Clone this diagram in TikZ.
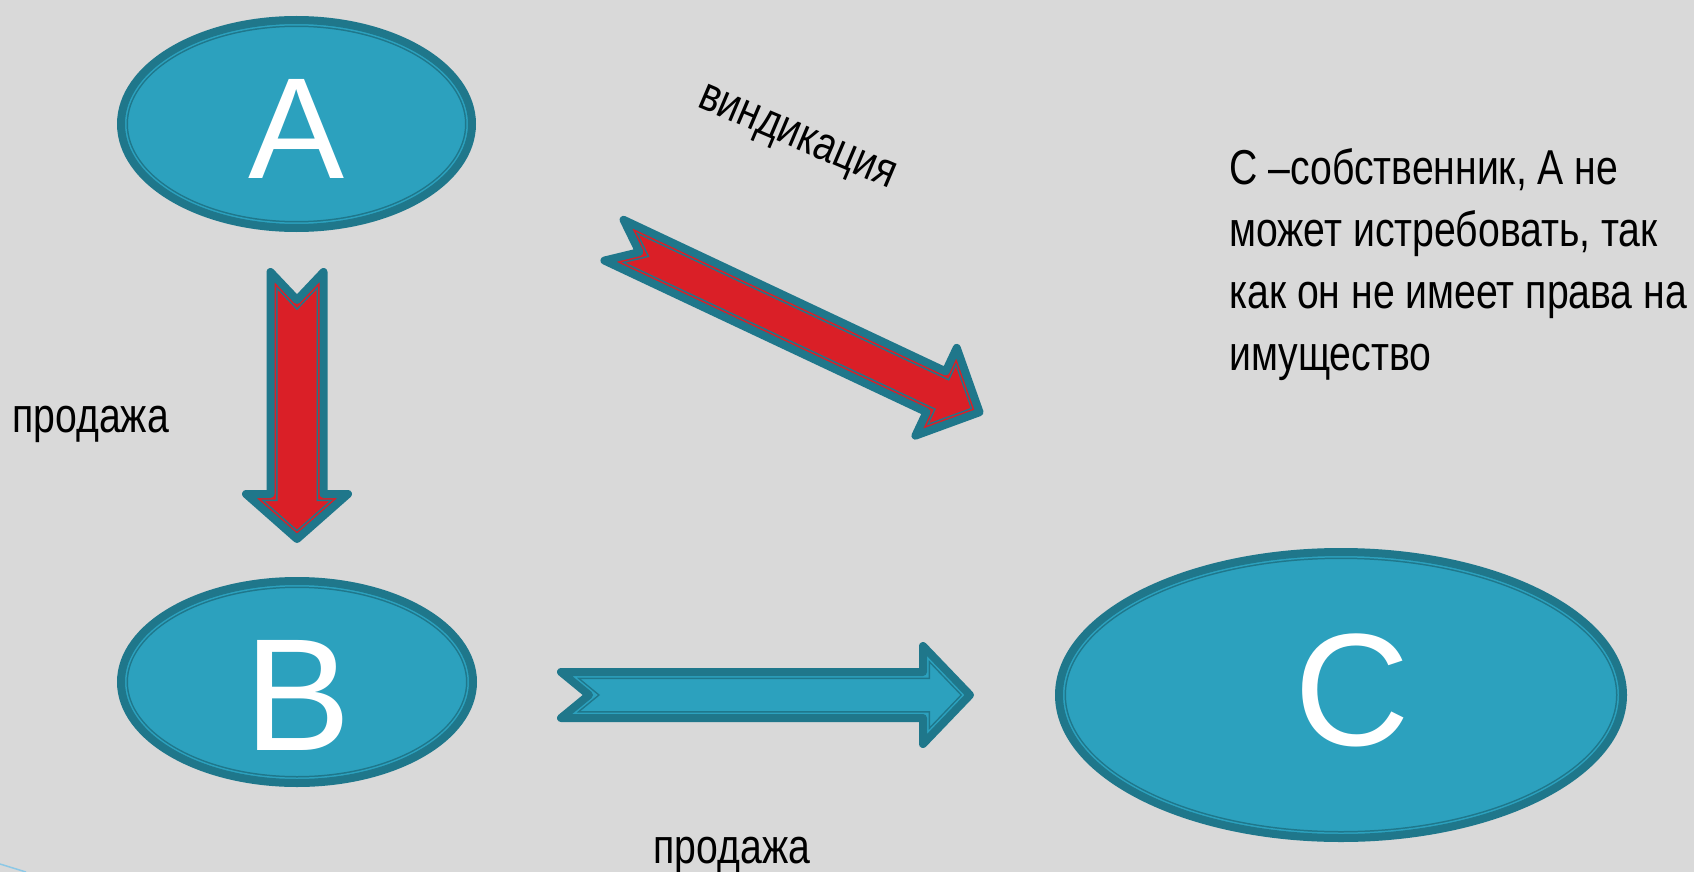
\documentclass[tikz,border=0pt]{standalone}
\usepackage{fontspec}
\setmainfont{Liberation Sans}
\newfontfamily\narrowfont{Liberation Sans}[FakeStretch=0.8]
\definecolor{bgcol}{RGB}{217,217,217}
\definecolor{tealfill}{RGB}{44,161,190}
\definecolor{tealdark}{RGB}{31,119,139}
\definecolor{redfill}{RGB}{218,31,39}
\definecolor{decoblue}{RGB}{140,200,230}
\newcommand\framedpath[2]{%
  \fill[#1] #2;
  \begin{scope}
    \clip #2;
    \draw[tealdark, line width=14pt] #2;
    \draw[#1, line width=11pt] #2;
  \end{scope}
  \draw[tealdark, line width=8pt, line join=round] #2;
}
\newcommand\blockarrowshape[7]{%
  \begin{scope}[shift={#2}, rotate=#3]
    \framedpath{#1}{(0,#6) -- ({#4-#5},#6) -- ({#4-#5},#7) -- (#4,0) -- ({#4-#5},-#7) -- ({#4-#5},-#6) -- (0,-#6) -- (28,0) -- cycle}
  \end{scope}
}
\tikzset{
  lettr/.style={text=white, inner sep=0pt},
  lbl/.style={text=black, inner sep=0pt, font=\narrowfont\fontsize{49}{56}\selectfont},
  note/.style={text=black, inner sep=0pt, align=left, font=\narrowfont\fontsize{49}{62}\selectfont}
}
\begin{document}
\begin{tikzpicture}[x=1pt, y=-1pt]
\useasboundingbox (0,0) rectangle (1694,872);
\fill[bgcol] (0,0) rectangle (1694,872);
\draw[decoblue, line width=1.5pt] (0,864) -- (26,872);
% ellipses
\framedpath{tealfill}{(296.5,124) ellipse [x radius=175.5, y radius=104]}
\framedpath{tealfill}{(297,682) ellipse [x radius=176, y radius=101]}
\framedpath{tealfill}{(1341,695) ellipse [x radius=282, y radius=143]}
\node[lettr, font=\fontsize{144}{144}\selectfont] (A) at (296.5,128.5) {A};
\node[lettr, font=\fontsize{160}{160}\selectfont] (B) at (298,695.5) {B};
\node[lettr, font=\fontsize{160}{160}\selectfont] (C) at (1352,690) {C};
% block arrows
\blockarrowshape{redfill}{(297,272)}{-90}{267}{45}{26.5}{51}
\blockarrowshape{redfill}{(614,240.2)}{-25.2}{404}{48}{22.5}{48.5}
\blockarrowshape{tealfill}{(561,695)}{0}{409}{47}{23}{49}
% labels
\node[lbl, anchor=base west] (p1) at (12,432) {продажа};
\node[lbl, anchor=base] (p2) at (732,863) {продажа};
\node[lbl, font=\narrowfont\fontsize{48}{50}\selectfont, rotate=-23] (v) at (796,140) {виндикация};
\node[note, anchor=base west] (n) at (1229,370) {С –собственник, А не\\может истребовать, так\\как он не имеет права на\\имущество};
\end{tikzpicture}
\end{document}
